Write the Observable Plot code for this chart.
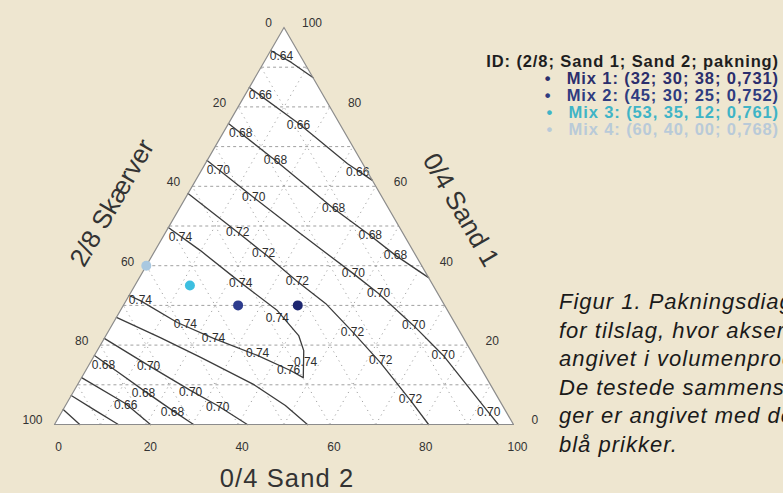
<!DOCTYPE html>
<html><head><meta charset="utf-8">
<script src="https://cdn.jsdelivr.net/npm/d3@7"></script>
<script src="https://cdn.jsdelivr.net/npm/@observablehq/plot@0.6"></script>
<style>
html,body{margin:0;padding:0;}
body{width:783px;height:493px;overflow:hidden;background:#EEE6D0;position:relative;font-family:"Liberation Sans",Arial,sans-serif;}
#chart{position:absolute;left:0;top:0;}
#legend{position:absolute;right:4px;top:53px;text-align:right;font-weight:bold;font-size:16.5px;letter-spacing:0.9px;line-height:17px;white-space:nowrap;}
#legend .b{display:inline-block;width:22px;text-align:left;}
#caption{position:absolute;left:559px;top:288px;font-style:italic;font-size:22px;letter-spacing:1px;line-height:28.6px;white-space:nowrap;color:#1a1a1a;}
</style></head><body>
<div id="chart"></div><div id="legend"></div><div id="caption"></div>
<script>
// ---- data (ternary: [Sand 2 %, Sand 1 %]; Skærver = 100 - both) ----
const tickValues = [0, 20, 40, 60, 80, 100];
const gridSteps = [10, 20, 30, 40, 50, 60, 70, 80, 90];

const mixNames = ["Mix 1", "Mix 2", "Mix 3", "Mix 4"];
const mixSkaerver = [32, 45, 53, 60];
const mixSand1 = [30, 30, 35, 40];
const mixSand2 = [38, 25, 12, 0];
const mixPakning = ["0,731", "0,752", "0,761", "0,768"];
const mixLegendText = [
  "Mix 1: (32; 30; 38; 0,731)",
  "Mix 2: (45; 30; 25; 0,752)",
  "Mix 3: (53, 35, 12; 0,761)",
  "Mix 4: (60, 40, 00; 0,768)"
];
const mixColors = ["#1d2670", "#2d3c8e", "#3dbfe0", "#a9c8e0"];
const legendColors = ["#2b2e6c", "#2f3c80", "#3fb4c6", "#b9cad8"];
const legendHeader = "ID: (2/8; Sand 1; Sand 2; pakning)";

const contourLevels = ["0.64","0.66","0.68","0.70","0.72","0.74","0.72","0.70","0.68","0.66","0.64","0.62"];
const contour1 = [[0,94.2],[6,91.2],[12.6,87.4]];
const contour2 = [[0,84.9],[15.3,75.8],[31,65.7],[38.5,61.5]];
const contour3 = [[0,75.8],[14.9,66.5],[33.6,54.4],[45,47.6],[53,42.6],[63,37]];
const contour4 = [[0,66.5],[14.8,57.2],[29.5,48.1],[46.1,38],[54.1,33],[65.8,24.9],[76,17.4],[93.1,3],[96.7,0]];
const contour5 = [[0,58.2],[15.7,48.4],[24.6,42.8],[34.9,36],[43.8,30.5],[53.2,23.4],[63.2,15.6],[74.6,6],[81.5,0]];
const contour6 = [[0,49.6],[9.9,43.8],[22.6,35.8],[34.2,28.7],[42,22.4],[45,18.6],[48.3,11.8],[44.6,13.6],[35.5,17.4],[23.8,21.7],[13.9,25.7],[3.1,31.2],[0,32.5]];
const contour7 = [[0,27],[12.1,21.9],[23.4,16.9],[38.3,10.1],[47.9,4.8],[55.1,0]];
const contour8 = [[0,21.7],[13,14.9],[25.3,8.6],[33.1,4.8],[42,0]];
const contour9 = [[0,17.4],[7.4,13.1],[15.1,8.6],[24,3.5],[30.3,0]];
const contour10 = [[0,11.8],[12.8,5.3],[20.9,0]];
const contour11 = [[0,7.3],[7.2,3.5],[13.9,0]];
const contour12 = [[0,3.8],[5.5,0]];

const labelTexts = ["0.64","0.66","0.66","0.66","0.68","0.68","0.68","0.68","0.68",
  "0.70","0.70","0.70","0.70","0.70","0.70","0.70",
  "0.72","0.72","0.72","0.72","0.72","0.72",
  "0.74","0.74","0.74","0.74","0.74","0.74","0.74","0.74","0.76",
  "0.70","0.70","0.70","0.68","0.68","0.68","0.66"];
const labelSand2 = [3,3.4,15.5,34.3,3.9,14.9,33.6,45,53,
  3.7,14.8,46.1,54.1,65.8,76,93.1,
  15.7,24,34.9,53.3,63,74.3,
  3.9,22.8,35.2,3.1,15.8,23.8,35.3,46.9,44.2,
  13.2,25.6,33.4,3.2,15.5,24.2,13.1];
const labelSand1 = [92.9,82.9,75.3,63.5,73.3,66.5,54.4,47.6,42.6,
  64,57.2,38,33,24.9,17.4,3,
  48.4,43.1,36,23.2,16.1,6.5,
  47.1,35.5,26.7,31.2,25.4,21.7,17.9,15.6,13.6,
  14.6,8.1,4.3,14.9,7.8,3,4.8];

const captionLines = [
  "Figur 1. Pakningsdiagram",
  "for tilslag, hvor akserne er",
  "angivet i volumenprocent.",
  "De testede sammensætnin-",
  "ger er angivet med de",
  "blå prikker."
];
const axisTitles = ["2/8 Skærver", "0/4 Sand 1", "0/4 Sand 2"];

// ---- helpers: ternary -> cartesian data coords ----
const P = (s2, s1) => ({x: s2 + s1 / 2, y: s1});

const contours = [contour1,contour2,contour3,contour4,contour5,contour6,contour7,contour8,contour9,contour10,contour11,contour12];
const contourRows = contours.flatMap((pts, i) => pts.map(([s2, s1]) => ({id: i, level: contourLevels[i], ...P(s2, s1)})));
const labelRows = labelTexts.map((t, i) => ({text: t, ...P(labelSand2[i], labelSand1[i])}));

const triangle = [P(0,100), P(0,0), P(100,0), P(0,100)];
const gridH = gridSteps.map(k => ({a: P(0,k), b: P(100-k,k)}));
const gridB = gridSteps.map(k => ({a: P(100-k,0), b: P(0,100-k)}));
const gridC = gridSteps.map(k => ({a: P(k,0), b: P(k,100-k)}));
const link = (rows, opts) => Plot.link(rows, {x1: d => d.a.x, y1: d => d.a.y, x2: d => d.b.x, y2: d => d.b.y, ...opts});

const leftTicks = tickValues.map(v => ({text: String(v), ...P(0, 100 - v)}));
const rightTicks = tickValues.map(v => ({text: String(v), ...P(100 - v, v)}));
const bottomTicks = tickValues.map(v => ({text: String(v), ...P(v, 0)}));

const mixRows = mixNames.map((n, i) => ({name: n, color: mixColors[i], ...P(mixSand2[i], mixSand1[i])}));

const font = "'Liberation Sans', Arial, sans-serif";
const chart = Plot.plot({
  width: 783, height: 493, margin: 0,
  x: {domain: [0, 100], range: [54, 513], axis: null},
  y: {domain: [0, 100], range: [424, 27], axis: null},
  style: {background: "transparent", fontFamily: font},
  marks: [
    Plot.line(triangle, {x: "x", y: "y", fill: "white", stroke: "none"}),
    link(gridB, {stroke: "#a4a4a4", strokeWidth: 1, strokeDasharray: "1.2,4"}),
    link(gridC, {stroke: "#a4a4a4", strokeWidth: 1, strokeDasharray: "1.2,4"}),
    link(gridH, {stroke: "#a0a0a0", strokeWidth: 1, strokeDasharray: "3,3"}),
    Plot.line(contourRows, {x: "x", y: "y", z: "id", stroke: "#3c3c3c", strokeWidth: 1.3}),
    Plot.text(labelRows, {x: "x", y: "y", text: "text", fontSize: 12, fill: "#2e2e2e"}),
    Plot.line(triangle, {x: "x", y: "y", stroke: "#8c8c8c", strokeWidth: 1.2}),
    Plot.dot(mixRows, {x: "x", y: "y", r: 5, fill: "color", stroke: "none"}),
    Plot.text(leftTicks, {x: "x", y: "y", text: "text", textAnchor: "end", dx: -12, dy: -4, fontSize: 12, fill: "#333"}),
    Plot.text(rightTicks, {x: "x", y: "y", text: "text", textAnchor: "start", dx: 18, dy: -4, fontSize: 12, fill: "#333"}),
    Plot.text(bottomTicks, {x: "x", y: "y", text: "text", dx: 4, dy: 23, fontSize: 12, fill: "#333"}),
    Plot.text([{text: axisTitles[0], ...P(0, 50)}], {x: "x", y: "y", text: "text", rotate: -60, dx: -57, dy: -23, fontSize: 26, fill: "#333"}),
    Plot.text([{text: axisTitles[1], ...P(50, 50)}], {x: "x", y: "y", text: "text", rotate: 60, dx: 62, dy: -16, fontSize: 26, fill: "#333"}),
    Plot.text([{text: axisTitles[2], ...P(50, 0)}], {x: "x", y: "y", text: "text", dx: 3, dy: 54, fontSize: 25.5, fill: "#333"})
  ]
});
d3.select(chart).selectAll("text").filter(function() { return this.textContent === axisTitles[2]; })
  .style("letter-spacing", "1.1px");
document.getElementById("chart").append(chart);

const legend = document.getElementById("legend");
const hdr = document.createElement("div");
hdr.textContent = legendHeader; hdr.style.color = "#1e1e1e";
legend.append(hdr);
mixLegendText.forEach((t, i) => {
  const row = document.createElement("div");
  row.style.color = legendColors[i];
  const b = document.createElement("span"); b.className = "b"; b.textContent = "•";
  row.append(b, document.createTextNode(t));
  legend.append(row);
});
const cap = document.getElementById("caption");
captionLines.forEach(l => { const d = document.createElement("div"); d.textContent = l; cap.append(d); });
</script></body></html>
